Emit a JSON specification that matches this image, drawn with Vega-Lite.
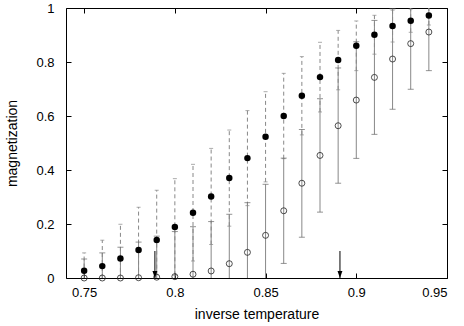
{
  "$schema": "https://vega.github.io/schema/vega-lite/v6.json",
  "autosize": {"type": "none"},
  "width": 381,
  "height": 270,
  "padding": {"left": 66, "top": 8, "right": 17, "bottom": 48},
  "background": "white",
  "config": {
    "view": {"stroke": "black", "strokeWidth": 1},
    "font": "Liberation Sans",
    "axis": {"grid": false, "domainColor": "black", "tickColor": "black", "labelColor": "black", "titleColor": "black", "labelFont": "Liberation Sans", "titleFont": "Liberation Sans", "labelFontSize": 13, "titleFontSize": 14, "titleFontWeight": "normal", "tickSize": -5}
  },
  "datasets": {
    "m": [
      {"x": 0.75, "mf": 0.027, "flo": -0.039, "fhi": 0.093, "mo": 0.0, "olo": -0.07, "ohi": 0.07},
      {"x": 0.76, "mf": 0.044, "flo": -0.052, "fhi": 0.14, "mo": 0.0, "olo": -0.093, "ohi": 0.093},
      {"x": 0.77, "mf": 0.072, "flo": -0.055, "fhi": 0.199, "mo": 0.0, "olo": -0.114, "ohi": 0.114},
      {"x": 0.78, "mf": 0.104, "flo": -0.054, "fhi": 0.262, "mo": 0.001, "olo": -0.131, "ohi": 0.133},
      {"x": 0.79, "mf": 0.141, "flo": -0.043, "fhi": 0.325, "mo": 0.003, "olo": -0.149, "ohi": 0.155},
      {"x": 0.80, "mf": 0.189, "flo": 0.01, "fhi": 0.368, "mo": 0.005, "olo": -0.162, "ohi": 0.172},
      {"x": 0.81, "mf": 0.242, "flo": 0.063, "fhi": 0.421, "mo": 0.014, "olo": -0.162, "ohi": 0.19},
      {"x": 0.82, "mf": 0.302, "flo": 0.124, "fhi": 0.48, "mo": 0.026, "olo": -0.157, "ohi": 0.209},
      {"x": 0.83, "mf": 0.37, "flo": 0.192, "fhi": 0.548, "mo": 0.053, "olo": -0.13, "ohi": 0.236},
      {"x": 0.84, "mf": 0.444, "flo": 0.268, "fhi": 0.62, "mo": 0.095, "olo": -0.089, "ohi": 0.279},
      {"x": 0.85, "mf": 0.523, "flo": 0.356, "fhi": 0.69, "mo": 0.158, "olo": -0.031, "ohi": 0.347},
      {"x": 0.86, "mf": 0.60, "flo": 0.442, "fhi": 0.758, "mo": 0.249, "olo": 0.054, "ohi": 0.444},
      {"x": 0.87, "mf": 0.675, "flo": 0.53, "fhi": 0.82, "mo": 0.351, "olo": 0.151, "ohi": 0.55},
      {"x": 0.88, "mf": 0.744, "flo": 0.615, "fhi": 0.873, "mo": 0.454, "olo": 0.244, "ohi": 0.664},
      {"x": 0.89, "mf": 0.807, "flo": 0.697, "fhi": 0.917, "mo": 0.564, "olo": 0.351, "ohi": 0.778},
      {"x": 0.90, "mf": 0.86, "flo": 0.768, "fhi": 0.952, "mo": 0.659, "olo": 0.443, "ohi": 0.875},
      {"x": 0.91, "mf": 0.901, "flo": 0.829, "fhi": 0.973, "mo": 0.743, "olo": 0.532, "ohi": 0.954},
      {"x": 0.92, "mf": 0.933, "flo": 0.874, "fhi": 0.992, "mo": 0.811, "olo": 0.625, "ohi": 0.997},
      {"x": 0.93, "mf": 0.953, "flo": 0.91, "fhi": 0.996, "mo": 0.868, "olo": 0.699, "ohi": 1.037},
      {"x": 0.94, "mf": 0.972, "flo": 0.937, "fhi": 1.007, "mo": 0.911, "olo": 0.768, "ohi": 1.054}
    ],
    "arrows": [
      {"x": 0.789, "top": 0.1, "tip": 0},
      {"x": 0.891, "top": 0.1, "tip": 0}
    ]
  },
  "layer": [
    {
      "data": {"name": "m"},
      "mark": {"type": "rule", "color": "#888888", "strokeWidth": 1, "strokeDash": [4, 3], "clip": true},
      "encoding": {
        "x": {"field": "x", "type": "quantitative", "scale": {"domain": [0.74, 0.95], "nice": false, "zero": false},
          "axis": {"title": "inverse temperature", "values": [0.75, 0.8, 0.85, 0.9, 0.95], "format": "~g", "labelPadding": 13, "titlePadding": 8, "domain": false}},
        "y": {"field": "flo", "type": "quantitative", "scale": {"domain": [0, 1], "nice": false},
          "axis": {"title": "magnetization", "values": [0, 0.2, 0.4, 0.6, 0.8, 1], "format": "~g", "labelPadding": 17, "titlePadding": 16, "domain": false}},
        "y2": {"field": "fhi"}
      }
    },
    {
      "data": {"name": "m"},
      "mark": {"type": "tick", "orient": "horizontal", "color": "#888888", "size": 4, "thickness": 1, "clip": true},
      "encoding": {"x": {"field": "x", "type": "quantitative", "axis": null}, "y": {"field": "fhi", "type": "quantitative", "axis": null}}
    },
    {
      "data": {"name": "m"},
      "mark": {"type": "tick", "orient": "horizontal", "color": "#888888", "size": 4, "thickness": 1, "clip": true},
      "encoding": {"x": {"field": "x", "type": "quantitative", "axis": null}, "y": {"field": "flo", "type": "quantitative", "axis": null}}
    },
    {
      "data": {"name": "m"},
      "mark": {"type": "rule", "color": "#888888", "strokeWidth": 1, "clip": true},
      "encoding": {"x": {"field": "x", "type": "quantitative", "axis": null}, "y": {"field": "olo", "type": "quantitative", "axis": null}, "y2": {"field": "ohi"}}
    },
    {
      "data": {"name": "m"},
      "mark": {"type": "tick", "orient": "horizontal", "color": "#666666", "size": 6, "thickness": 1, "clip": true},
      "encoding": {"x": {"field": "x", "type": "quantitative", "axis": null}, "y": {"field": "ohi", "type": "quantitative", "axis": null}}
    },
    {
      "data": {"name": "m"},
      "mark": {"type": "tick", "orient": "horizontal", "color": "#666666", "size": 6, "thickness": 1, "clip": true},
      "encoding": {"x": {"field": "x", "type": "quantitative", "axis": null}, "y": {"field": "olo", "type": "quantitative", "axis": null}}
    },
    {
      "data": {"name": "m"},
      "mark": {"type": "point", "shape": "circle", "filled": false, "stroke": "#222222", "strokeWidth": 0.8, "size": 36, "opacity": 1},
      "encoding": {"x": {"field": "x", "type": "quantitative", "axis": null}, "y": {"field": "mo", "type": "quantitative", "axis": null}}
    },
    {
      "data": {"name": "m"},
      "mark": {"type": "point", "shape": "circle", "filled": true, "fill": "black", "size": 42, "opacity": 1},
      "encoding": {"x": {"field": "x", "type": "quantitative", "axis": null}, "y": {"field": "mf", "type": "quantitative", "axis": null}}
    },
    {
      "data": {"name": "arrows"},
      "mark": {"type": "rule", "color": "black", "strokeWidth": 1},
      "encoding": {"x": {"field": "x", "type": "quantitative", "axis": null}, "y": {"field": "top", "type": "quantitative", "axis": null}, "y2": {"field": "tip"}}
    },
    {
      "data": {"name": "arrows"},
      "mark": {"type": "point", "shape": "M-0.35,-1L0,0L0.35,-1Z", "filled": true, "fill": "black", "strokeWidth": 0, "size": 196, "opacity": 1},
      "encoding": {"x": {"field": "x", "type": "quantitative", "axis": null}, "y": {"field": "tip", "type": "quantitative", "axis": null}}
    },
    {
      "data": {"name": "arrows"},
      "mark": {"type": "rule", "opacity": 0},
      "encoding": {
        "x": {"field": "x", "type": "quantitative", "axis": {"orient": "top", "values": [0.75, 0.8, 0.85, 0.9, 0.95], "labels": false, "title": null, "domain": false}},
        "y": {"field": "tip", "type": "quantitative", "axis": {"orient": "right", "values": [0, 0.2, 0.4, 0.6, 0.8, 1], "labels": false, "title": null, "domain": false}}
      }
    }
  ],
  "resolve": {"axis": {"x": "independent", "y": "independent"}}
}
